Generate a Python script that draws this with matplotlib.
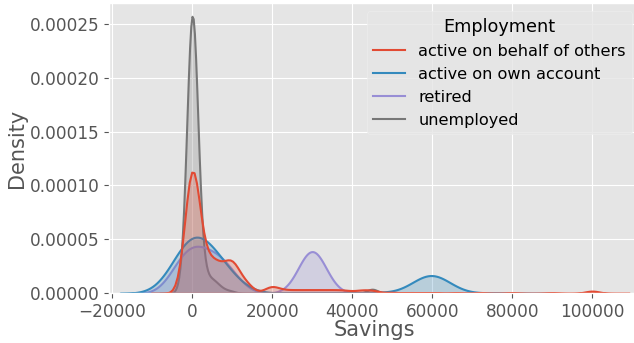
import numpy as np
import matplotlib.pyplot as plt
import seaborn as sns
from matplotlib.lines import Line2D

plt.style.use("ggplot")

groups = ["active on behalf of others", "active on own account", "retired", "unemployed"]
colors = ["#E24A33", "#348ABD", "#988ED5", "#777777"]

# savings per employment group: distinct amounts and how many people hold each
others_savings = [-1000, 0, 1000, 3000, 5000, 7000, 9500, 11000, 13500, 19800,
                  23000, 26000, 29000, 32000, 35000, 38000, 42000, 45000,
                  50000, 55000, 60000, 66000, 72000, 80000, 90000, 100000]
others_counts = [80, 340, 80, 60, 70, 55, 80, 40, 30, 25,
                 10, 10, 10, 10, 10, 10, 10, 10,
                 4, 3, 3, 2, 2, 2, 2, 9]

own_savings = [-3500, -1500, 1000, 4000, 8000, 11000, 25000, 35000, 45000, 58500, 61000, 76000]
own_counts = [65, 235, 170, 200, 120, 20, 5, 5, 10, 100, 100, 5]

retired_savings = [-3500, 0, 3000, 6500, 10000, 29300, 30700]
retired_counts = [120, 175, 110, 150, 75, 160, 160]

unemployed_savings = [-1500, 50, 2500, 5000, 7000, 9500, 45000]
unemployed_counts = [40, 780, 50, 30, 12, 6, 12]

# kernel width (in savings units) used for each group
bandwidths = [1800, 4500, 3400, 1350]

savings = [others_savings, own_savings, retired_savings, unemployed_savings]
counts = [others_counts, own_counts, retired_counts, unemployed_counts]

fig = plt.figure(figsize=(6.34, 3.43), dpi=100)
ax = fig.add_axes([109 / 634, 49.7 / 343, 531.2 / 634, 290 / 343])

# seaborn draws hue levels last-to-first, keep the same stacking
for name, x, w, bw, c in reversed(list(zip(groups, savings, counts, bandwidths, colors))):
    x = np.asarray(x, dtype=float)
    w = np.asarray(w, dtype=float)
    std = np.sqrt(np.cov(x, aweights=w))
    sns.kdeplot(x=x, weights=w, bw_method=bw / std, fill=True, color=c,
                linewidth=1.5, ax=ax)

ax.set_xlim(-20800, 112000)
ax.set_ylim(0, 0.000269)
ax.set_xlabel("Savings", fontsize=15, labelpad=-1)
ax.set_ylabel("Density", fontsize=15, labelpad=2)
ax.tick_params(labelsize=12.2)

handles = [Line2D([], [], color=c, linewidth=1.5) for c in colors]
leg = ax.legend(handles, groups, title="Employment", loc="upper right",
                fontsize=11.6, title_fontsize=12.7, labelspacing=0.5,
                facecolor="#E5E5E5", edgecolor="#EEEEEE", framealpha=0.8)

fig.savefig("out.png", dpi=100)
